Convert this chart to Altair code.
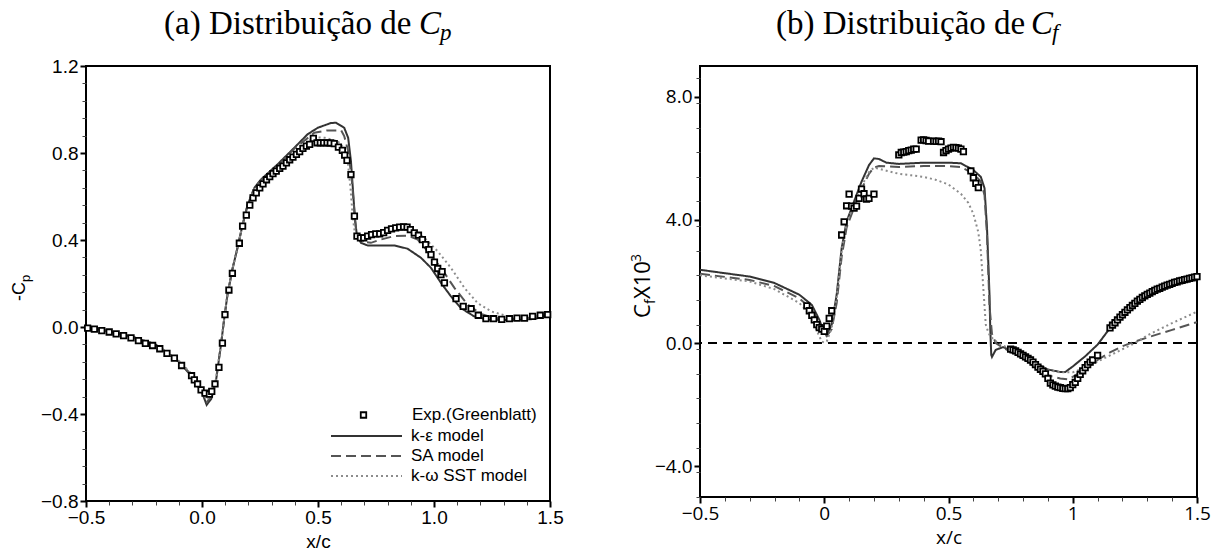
import altair as alt
import pandas as pd

# ---------------- Panel (a): -Cp ----------------
cp_exp_x = [-0.493, -0.464, -0.432, -0.40, -0.37, -0.338, -0.306, -0.274, -0.244, -0.213, -0.182, -0.151,
            -0.119, -0.088, -0.045, -0.033, -0.019, -0.004, 0.013, 0.032, 0.042, 0.056, 0.073, 0.088,
            0.099, 0.116, 0.131, 0.161, 0.175, 0.191, 0.206, 0.22, 0.234, 0.249, 0.263, 0.278, 0.292,
            0.306, 0.32, 0.335, 0.349, 0.364, 0.378, 0.392, 0.407, 0.421, 0.435, 0.45, 0.464, 0.48,
            0.496, 0.51, 0.524, 0.539, 0.553, 0.57, 0.588, 0.605, 0.615, 0.625, 0.642, 0.657, 0.668,
            0.683, 0.697, 0.714, 0.731, 0.749, 0.766, 0.783, 0.80, 0.817, 0.835, 0.852, 0.869, 0.884,
            0.898, 0.915, 0.933, 0.95, 0.964, 0.978, 0.987, 1.002, 1.016, 1.03, 1.035, 1.045, 1.095,
            1.126, 1.16, 1.191, 1.224, 1.257, 1.292, 1.325, 1.358, 1.39, 1.425, 1.458, 1.49]
cp_exp_y = [-0.005, -0.01, -0.017, -0.023, -0.032, -0.04, -0.05, -0.063, -0.075, -0.085, -0.10, -0.121,
            -0.143, -0.177, -0.224, -0.243, -0.262, -0.289, -0.304, -0.309, -0.296, -0.262, -0.186, -0.074,
            0.057, 0.17, 0.247, 0.385, 0.464, 0.514, 0.56, 0.594, 0.617, 0.64, 0.658, 0.677, 0.691,
            0.705, 0.717, 0.729, 0.74, 0.755, 0.769, 0.781, 0.794, 0.806, 0.821, 0.832, 0.84, 0.867,
            0.847, 0.847, 0.847, 0.847, 0.846, 0.843, 0.827, 0.812, 0.79, 0.766, 0.701, 0.51, 0.418,
            0.41, 0.41, 0.418, 0.425, 0.428, 0.428, 0.434, 0.444, 0.451, 0.456, 0.459, 0.46, 0.459,
            0.448, 0.433, 0.422, 0.402, 0.379, 0.356, 0.333, 0.298, 0.269, 0.241, 0.255, 0.203, 0.13,
            0.095, 0.084, 0.054, 0.038, 0.038, 0.035, 0.038, 0.041, 0.041, 0.049, 0.054, 0.057]

cp_ke_x = [-0.5, -0.4, -0.3, -0.2, -0.1, -0.05, 0.0, 0.02, 0.04, 0.06, 0.082, 0.096, 0.11, 0.132, 0.153,
           0.175, 0.197, 0.226, 0.254, 0.326, 0.398, 0.455, 0.499, 0.556, 0.578, 0.613, 0.63, 0.642,
           0.652, 0.66, 0.668, 0.685, 0.714, 0.829, 0.886, 0.944, 0.987, 1.03, 1.073, 1.116, 1.173,
           1.231, 1.332, 1.433, 1.5]
cp_ke_y = [0.0, -0.02, -0.045, -0.08, -0.16, -0.22, -0.30, -0.358, -0.33, -0.25, -0.08, 0.04, 0.15, 0.27,
           0.364, 0.47, 0.563, 0.64, 0.678, 0.748, 0.824, 0.886, 0.916, 0.938, 0.939, 0.916, 0.87, 0.763,
           0.61, 0.487, 0.42, 0.387, 0.375, 0.375, 0.36, 0.318, 0.272, 0.203, 0.141, 0.087, 0.049,
           0.034, 0.031, 0.037, 0.057]

cp_sa_x = [-0.5, -0.4, -0.3, -0.2, -0.1, -0.05, 0.0, 0.02, 0.04, 0.06, 0.082, 0.096, 0.11, 0.132, 0.153,
           0.175, 0.197, 0.226, 0.254, 0.326, 0.398, 0.484, 0.54, 0.60, 0.613, 0.63, 0.645, 0.657, 0.666,
           0.685, 0.728, 0.77, 0.829, 0.886, 0.93, 0.973, 1.03, 1.088, 1.145, 1.203, 1.26, 1.375, 1.5]
cp_sa_y = [0.0, -0.02, -0.045, -0.08, -0.158, -0.215, -0.295, -0.345, -0.32, -0.245, -0.08, 0.04, 0.15,
           0.27, 0.364, 0.47, 0.563, 0.64, 0.675, 0.74, 0.82, 0.893, 0.904, 0.904, 0.878, 0.81, 0.686,
           0.53, 0.425, 0.394, 0.387, 0.402, 0.418, 0.42, 0.402, 0.348, 0.272, 0.18, 0.103, 0.06, 0.041,
           0.037, 0.057]

cp_sst_x = [-0.5, -0.4, -0.3, -0.2, -0.1, -0.05, 0.0, 0.02, 0.04, 0.06, 0.082, 0.096, 0.11, 0.132, 0.153,
            0.175, 0.197, 0.226, 0.254, 0.326, 0.398, 0.45, 0.484, 0.53, 0.585, 0.61, 0.628, 0.64, 0.65,
            0.66, 0.678, 0.743, 0.829, 0.901, 0.959, 1.016, 1.073, 1.131, 1.188, 1.246, 1.318, 1.404, 1.5]
cp_sst_y = [0.0, -0.02, -0.045, -0.08, -0.155, -0.21, -0.29, -0.335, -0.31, -0.24, -0.08, 0.04, 0.15,
            0.27, 0.364, 0.47, 0.56, 0.635, 0.67, 0.735, 0.80, 0.845, 0.873, 0.87, 0.855, 0.824, 0.763,
            0.64, 0.502, 0.425, 0.418, 0.425, 0.448, 0.448, 0.41, 0.348, 0.272, 0.18, 0.11, 0.072,
            0.049, 0.045, 0.057]

# ---------------- Panel (b): Cf x 10^3 ----------------
cf_exp_x = [-0.07, -0.06, -0.05, -0.04, -0.03, -0.02, -0.01, 0.0, 0.01, 0.02, 0.03,
            0.07, 0.08, 0.09, 0.10, 0.11, 0.12, 0.13, 0.14, 0.15, 0.16, 0.17, 0.18, 0.20,
            0.30, 0.31, 0.32, 0.33, 0.34, 0.35, 0.36, 0.37, 0.39, 0.40, 0.41, 0.42, 0.44, 0.45, 0.46,
            0.47, 0.48, 0.49, 0.50, 0.51, 0.52, 0.53, 0.54, 0.55, 0.56,
            0.59, 0.60, 0.61, 0.62,
            0.75, 0.76, 0.77, 0.78, 0.79, 0.80, 0.81, 0.82, 0.83, 0.84, 0.85, 0.86, 0.87, 0.88, 0.89,
            0.90, 0.91, 0.92, 0.93, 0.94, 0.95, 0.96, 0.97, 0.98, 0.99, 1.00, 1.01, 1.02, 1.03, 1.04,
            1.05, 1.06, 1.07, 1.08, 1.10,
            1.15, 1.16, 1.17, 1.18, 1.19, 1.20, 1.21, 1.22, 1.23, 1.24, 1.25, 1.26, 1.27, 1.28, 1.29,
            1.30, 1.31, 1.32, 1.33, 1.34, 1.35, 1.36, 1.37, 1.38, 1.39, 1.40, 1.41, 1.42, 1.43, 1.44,
            1.45, 1.46, 1.47, 1.48, 1.49, 1.50]
cf_exp_y = [1.21, 1.05, 0.9, 0.75, 0.6, 0.5, 0.45, 0.38, 0.55, 0.8, 1.05,
            3.51, 3.94, 4.46, 4.84, 4.45, 4.38, 4.45, 4.7, 5.0, 4.85, 4.68, 4.7, 4.84,
            6.11, 6.19, 6.2, 6.22, 6.25, 6.27, 6.3, 6.3, 6.59, 6.6, 6.58, 6.56, 6.56, 6.55, 6.56,
            6.54, 6.19, 6.25, 6.3, 6.33, 6.36, 6.35, 6.33, 6.3, 6.22,
            5.59, 5.37, 5.19, 5.05,
            -0.2, -0.22, -0.25, -0.3, -0.35, -0.4, -0.45, -0.5, -0.55, -0.62, -0.7, -0.78, -0.85,
            -0.92, -1.0, -1.15, -1.3, -1.36, -1.4, -1.43, -1.45, -1.47, -1.48, -1.48, -1.45, -1.35,
            -1.28, -1.15, -1.02, -0.9, -0.8, -0.7, -0.62, -0.55, -0.4,
            0.49, 0.58, 0.66, 0.75, 0.84, 0.92, 1.0, 1.08, 1.15, 1.22, 1.29, 1.36, 1.42, 1.48, 1.53,
            1.58, 1.62, 1.67, 1.71, 1.75, 1.78, 1.82, 1.85, 1.88, 1.91, 1.94, 1.97, 1.99, 2.02, 2.04,
            2.06, 2.08, 2.10, 2.12, 2.14, 2.16]

cf_ke_x = [-0.5, -0.3, -0.2, -0.1, -0.05, -0.02, 0.0, 0.01, 0.03, 0.05, 0.07, 0.09, 0.12, 0.15, 0.18,
           0.2, 0.22, 0.25, 0.3, 0.4, 0.5, 0.55, 0.6, 0.63, 0.645, 0.655, 0.665, 0.668, 0.672, 0.675,
           0.69, 0.72, 0.8, 0.85, 0.9, 0.95, 0.97, 1.0, 1.05, 1.1, 1.15, 1.2, 1.25, 1.3, 1.35, 1.4,
           1.45, 1.5]
cf_ke_y = [2.38, 2.16, 1.95, 1.57, 1.24, 0.76, 0.32, 0.25, 0.6, 1.57, 3.08, 3.95, 4.6, 5.24, 5.78,
           6.0, 5.98, 5.86, 5.82, 5.86, 5.86, 5.84, 5.62, 5.4, 5.03, 3.73, 1.57, 0.49, -0.38, -0.45,
           -0.22, -0.13, -0.43, -0.65, -0.86, -0.94, -0.94, -0.76, -0.43, -0.05, 0.49, 0.94, 1.33,
           1.57, 1.78, 1.95, 2.09, 2.16]

cf_sa_x = [-0.5, -0.3, -0.2, -0.1, -0.05, -0.02, 0.0, 0.01, 0.03, 0.05, 0.07, 0.09, 0.12, 0.15, 0.18,
           0.2, 0.22, 0.3, 0.4, 0.5, 0.55, 0.6, 0.63, 0.645, 0.655, 0.665, 0.675, 0.69, 0.72, 0.8,
           0.85, 0.9, 0.95, 0.98, 1.0, 1.05, 1.1, 1.15, 1.2, 1.25, 1.3, 1.4, 1.5]
cf_sa_y = [2.25, 2.05, 1.85, 1.45, 1.1, 0.65, 0.3, 0.22, 0.45, 1.3, 2.8, 3.75, 4.4, 5.0, 5.5,
           5.7, 5.75, 5.72, 5.75, 5.75, 5.72, 5.5, 5.25, 4.8, 3.5, 1.2, 0.3, 0.0, -0.15, -0.5,
           -0.8, -1.05, -1.15, -1.18, -1.1, -0.85, -0.55, -0.3, -0.1, 0.05, 0.18, 0.43, 0.68]

cf_sst_x = [-0.5, -0.3, -0.2, -0.1, -0.05, -0.03, -0.01, 0.0, 0.01, 0.03, 0.05, 0.07, 0.09, 0.12,
            0.15, 0.18, 0.2, 0.25, 0.3, 0.35, 0.4, 0.45, 0.5, 0.55, 0.58, 0.6, 0.62, 0.63, 0.64,
            0.65, 0.66, 0.67, 0.7, 0.75, 0.8, 0.85, 0.9, 0.95, 1.0, 1.05, 1.1, 1.15, 1.2, 1.25, 1.3,
            1.4, 1.5]
cf_sst_y = [2.2, 2.0, 1.75, 1.3, 0.85, 0.4, 0.05, 0.02, 0.05, 0.5, 1.5, 3.0, 3.9, 4.5,
            5.1, 5.55, 5.7, 5.6, 5.5, 5.45, 5.4, 5.3, 5.15, 4.85, 4.55, 4.2, 3.6, 3.0, 1.8,
            0.6, 0.35, 0.2, 0.0, -0.2, -0.45, -0.7, -0.88, -0.95, -0.95, -0.8, -0.6, -0.4, -0.2, 0.0,
            0.25, 0.65, 1.02]

model_names = ["k-\u03b5 model", "SA model", "k-\u03c9 SST model"]
exp_name = "Exp.(Greenblatt)"
line_colors = ["#333333", "#555555", "#8c8c8c"]
line_dashes = [[1, 0], [10, 5], [2, 3]]

cp_x_major = [-0.5, 0.0, 0.5, 1.0, 1.5]
cp_y_major = [-0.8, -0.4, 0.0, 0.4, 0.8, 1.2]
cf_y_major = [-4.0, 0.0, 4.0, 8.0]


def minor(lo, hi, step, major):
    n = int(round((hi - lo) / step))
    vals = [round(lo + i * step, 4) for i in range(n + 1)]
    return [v for v in vals if all(abs(v - m) > 1e-6 for m in major)]


def lines_df(xs_list, ys_list):
    rows = []
    for name, xs, ys in zip(model_names, xs_list, ys_list):
        for i, (x, y) in enumerate(zip(xs, ys)):
            rows.append({"x": x, "y": y, "model": name, "i": i})
    return pd.DataFrame(rows)


def txt(s, x, y, size, font, angle=0, style="normal", align="left"):
    return alt.Chart(pd.DataFrame({"a": [0]})).mark_text(
        text=s, font=font, fontSize=size, fontStyle=style, angle=angle,
        align=align, baseline="alphabetic", color="black"
    ).encode(x=alt.value(x), y=alt.value(y))


def panel(xdom, ydom, xmaj, ymaj, xfmt, yfmt, ymin_step, font, exp_x, exp_y, ldf, with_legend):
    xs = alt.Scale(domain=xdom, nice=False, zero=False)
    ys = alt.Scale(domain=ydom, nice=False, zero=False)
    major_x = alt.Axis(orient="bottom", values=xmaj, format=xfmt, title="x/c",
                       labelFont=font, labelFontSize=19, titleFont=font, titleFontSize=19,
                       titleFontWeight="normal", tickSize=6, tickWidth=2, labelPadding=1,
                       titlePadding=5, domain=False, grid=False, labelColor="black",
                       titleColor="black", tickColor="black", labelFlush=False)
    major_y = alt.Axis(orient="left", values=ymaj, format=yfmt, title=None,
                       labelFont=font, labelFontSize=19, tickSize=6, tickWidth=2,
                       labelPadding=2, domain=False, grid=False, labelColor="black",
                       tickColor="black", labelFlush=False)
    minor_x = alt.Axis(orient="bottom", values=minor(xdom[0], xdom[1], 0.1, xmaj), labels=False,
                       title=None, tickSize=4, tickWidth=1, tickColor="#444444",
                       domain=False, grid=False)
    minor_y = alt.Axis(orient="left", values=minor(ydom[0], ydom[1], ymin_step, ymaj),
                       labels=False, title=None, tickSize=4, tickWidth=1,
                       tickColor="#444444", domain=False, grid=False)

    if with_legend:
        leg = alt.Legend(orient="none", legendX=244, legendY=360, title=None,
                         symbolType="stroke", symbolSize=5041, symbolStrokeWidth=2,
                         clipHeight=20, rowPadding=0, labelOffset=8, padding=0,
                         labelFont="Liberation Sans", labelFontSize=17, labelColor="black")
        eleg = alt.Legend(orient="none", legendX=269, legendY=339, title=None,
                          symbolType="square", symbolSize=30, symbolStrokeWidth=1.8,
                          symbolFillColor="white", symbolStrokeColor="black",
                          clipHeight=20, labelOffset=40, padding=0,
                          labelFont="Liberation Sans", labelFontSize=17, labelColor="black")
    else:
        leg = None
        eleg = None

    lines = alt.Chart(ldf).mark_line(strokeWidth=2, clip=True).encode(
        x=alt.X("x:Q", scale=xs, axis=major_x),
        y=alt.Y("y:Q", scale=ys, axis=major_y),
        color=alt.Color("model:N", scale=alt.Scale(domain=model_names, range=line_colors),
                        legend=leg),
        strokeDash=alt.StrokeDash("model:N", scale=alt.Scale(domain=model_names, range=line_dashes),
                                  legend=leg),
        order="i:Q",
    )
    edf = pd.DataFrame({"x": exp_x, "y": exp_y, "src": [exp_name] * len(exp_x)})
    pts = alt.Chart(edf).mark_point(shape="square", filled=False, fill="white", strokeWidth=1.8,
                                    size=30, opacity=1).encode(
        x=alt.X("x:Q", scale=xs, axis=minor_x),
        y=alt.Y("y:Q", scale=ys, axis=minor_y),
        stroke=alt.Stroke("src:N", scale=alt.Scale(domain=[exp_name], range=["black"]),
                          legend=eleg),
    )
    return lines, pts


LW, LH = 464, 435
RW, RH = 497, 431

cp_lines, cp_pts = panel([-0.5, 1.5], [-0.8, 1.2], cp_x_major, cp_y_major, ".1f", ".1f",
                         0.08, "Liberation Sans", cp_exp_x, cp_exp_y,
                         lines_df([cp_ke_x, cp_sa_x, cp_sst_x], [cp_ke_y, cp_sa_y, cp_sst_y]), True)

anchor = alt.Chart(pd.DataFrame({"a": [0]})).mark_rect(color="white").encode(
    x=alt.value(-85), x2=alt.value(-84), y=alt.value(-65), y2=alt.value(-64))

SERIF = "Liberation Serif"
TS = 33
# title (a): starts at page x 163
left_title = [
    txt("(a) Distribui\u00e7\u00e3o de", 78, -32, TS, SERIF),
    txt("C", 78 + 255, -32, TS, SERIF, style="italic"),
    txt("p", 78 + 255 + 21, -26, 23, SERIF, style="italic"),
]
left_ytitle = [
    txt("-C", -61, 235, 18, "Liberation Sans", angle=270),
    txt("p", -56, 216, 13, "Liberation Sans", angle=270),
]

left = alt.layer(anchor, cp_lines, cp_pts, *left_title, *left_ytitle).resolve_axis(
    x="independent", y="independent").properties(width=LW, height=LH)

cf_lines, cf_pts = panel([-0.5, 1.5], [-5.0, 9.0], cp_x_major, cf_y_major, "~g", ".1f",
                         0.8, "Open Sans", cf_exp_x, cf_exp_y,
                         lines_df([cf_ke_x, cf_sa_x, cf_sst_x], [cf_ke_y, cf_sa_y, cf_sst_y]), False)

zero_rule = alt.Chart(pd.DataFrame({"z": [0.0]})).mark_rule(
    color="black", strokeWidth=2, strokeDash=[9, 6]).encode(
    y=alt.Y("z:Q", scale=alt.Scale(domain=[-5.0, 9.0], nice=False, zero=False), axis=None))

# title (b): starts at page x 775 (right plot origin at page x 699)
right_title = [
    txt("(b) Distribui\u00e7\u00e3o de", 76, -32, TS, SERIF),
    txt("C", 76 + 255, -32, TS, SERIF, style="italic"),
    txt("f", 76 + 255 + 21, -26, 23, SERIF, style="italic"),
]
right_ytitle = [
    txt("C", -50, 252, 22, "Open Sans", angle=270),
    txt("f", -45, 238, 14, "Open Sans", angle=270),
    txt("X10", -50, 233, 22, "Open Sans", angle=270),
    txt("3", -59, 196, 14, "Open Sans", angle=270),
]

right = alt.layer(zero_rule, cf_lines, cf_pts, *right_title, *right_ytitle).resolve_axis(
    x="independent", y="independent").properties(width=RW, height=RH)

chart = alt.hconcat(left, right, spacing=150, bounds="flush").resolve_scale(
    color="independent", strokeDash="independent", stroke="independent"
).configure(padding=0, background="white").configure_view(
    stroke="black", strokeWidth=2
)

chart.save("out.html", embed_options={"renderer": "svg", "actions": False})
